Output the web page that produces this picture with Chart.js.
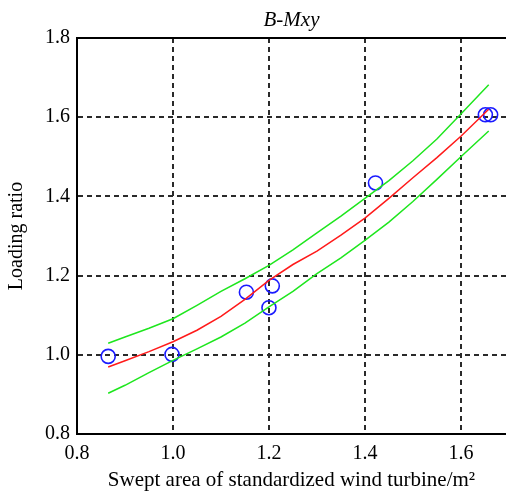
<!DOCTYPE html>
<html lang="en">
<head>
  <meta charset="UTF-8">
  <title>B-Mxy</title>
  <script src="https://cdn.jsdelivr.net/npm/chart.js"></script>
  <style>
    body {
      margin: 0;
      padding: 0;
      background-color: #fff;
    }
    .wrap {
      width: 506px;
      height: 493px;
      position: relative;
    }
  </style>
</head>
<body>
  <div class="wrap">
    <canvas id="grafico"></canvas>
  </div>

  <script>
    // Measured points (blue circles)
    const puntosX = [0.865, 0.998, 1.153, 1.207, 1.200, 1.422, 1.651, 1.662];
    const puntosY = [0.996, 1.001, 1.158, 1.174, 1.119, 1.434, 1.606, 1.606];

    // Fitted curve and confidence band
    const ajusteX = [0.865, 0.9, 0.95, 1.0, 1.05, 1.1, 1.15, 1.2, 1.25, 1.3, 1.35, 1.4, 1.45, 1.5, 1.55, 1.6, 1.658];
    const ajusteY = [0.969, 0.985, 1.008, 1.033, 1.062, 1.097, 1.140, 1.188, 1.228, 1.262, 1.302, 1.345, 1.395, 1.447, 1.498, 1.552, 1.620];
    const superiorY = [1.029, 1.045, 1.067, 1.091, 1.125, 1.160, 1.192, 1.226, 1.265, 1.308, 1.350, 1.395, 1.440, 1.490, 1.545, 1.608, 1.682];
    const inferiorY = [0.903, 0.923, 0.955, 0.986, 1.015, 1.045, 1.080, 1.121, 1.160, 1.205, 1.245, 1.289, 1.335, 1.387, 1.443, 1.500, 1.565];

    const ticksX = [0.8, 1.0, 1.2, 1.4, 1.6];
    const ticksY = [0.8, 1.0, 1.2, 1.4, 1.6, 1.8];

    const aPuntos = (xs, ys) => xs.map((x, i) => ({ x: x, y: ys[i] }));

    const serif = 'Liberation Serif, Times New Roman, serif';

    const linea = (datos, color) => ({
      data: datos,
      showLine: true,
      borderColor: color,
      borderWidth: 1.5,
      pointRadius: 0,
      tension: 0,
      fill: false
    });

    new Chart(document.getElementById('grafico'), {
      type: 'scatter',
      data: {
        datasets: [
          linea(aPuntos(ajusteX, superiorY), '#1ee61e'),
          linea(aPuntos(ajusteX, inferiorY), '#1ee61e'),
          linea(aPuntos(ajusteX, ajusteY), '#ff1a1a'),
          {
            data: aPuntos(puntosX, puntosY),
            pointRadius: 7,
            pointBorderWidth: 1.6,
            pointBorderColor: '#1a1aff',
            pointBackgroundColor: 'rgba(0,0,0,0)',
            showLine: false
          }
        ]
      },
      options: {
        responsive: true,
        maintainAspectRatio: false,
        animation: false,
        // sin autoPadding: los círculos grandes encogían el área del gráfico
        layout: { padding: 0, autoPadding: false },
        plugins: {
          legend: { display: false },
          tooltip: { enabled: false }
        },
        scales: {
          x: {
            type: 'linear',
            min: 0.8,
            max: 1.694,
            afterBuildTicks: s => { s.ticks = ticksX.map(v => ({ value: v })); },
            afterFit: s => { s.height = 59; s.paddingLeft = 0; s.paddingRight = 0; },
            ticks: {
              color: '#000',
              padding: 8,
              font: { family: serif, size: 20 },
              callback: v => v.toFixed(1)
            },
            grid: { color: '#2a2a2a', lineWidth: 2, drawTicks: false },
            border: { color: '#000', width: 2, dash: [5, 4] },
            title: {
              display: true,
              text: 'Swept area of standardized wind turbine/m²',
              color: '#000',
              font: { family: serif, size: 21 },
              padding: { top: 0, bottom: 0 }
            }
          },
          // eje superior: solo el borde del marco y el título
          x2: {
            type: 'linear',
            position: 'top',
            min: 0.8,
            max: 1.694,
            afterFit: s => { s.height = 38; s.paddingLeft = 0; s.paddingRight = 0; },
            ticks: { display: false },
            grid: { display: false, drawTicks: false },
            border: { display: true, color: '#000', width: 2 },
            title: {
              display: true,
              text: 'B-Mxy',
              color: '#000',
              font: { family: serif, size: 21, style: 'italic' },
              padding: { top: 8, bottom: 0 }
            }
          },
          y: {
            type: 'linear',
            min: 0.8,
            max: 1.8,
            afterBuildTicks: s => { s.ticks = ticksY.map(v => ({ value: v })); },
            afterFit: s => { s.width = 77; },
            ticks: {
              color: '#000',
              padding: 7,
              font: { family: serif, size: 20 },
              callback: v => v.toFixed(1)
            },
            grid: { color: '#2a2a2a', lineWidth: 2, drawTicks: false },
            border: { color: '#000', width: 2, dash: [5, 4] },
            title: {
              display: true,
              text: 'Loading ratio',
              color: '#000',
              font: { family: serif, size: 20 },
              padding: { top: 5, bottom: 0 }
            }
          }
        }
      }
    });
  </script>
</body>
</html>
